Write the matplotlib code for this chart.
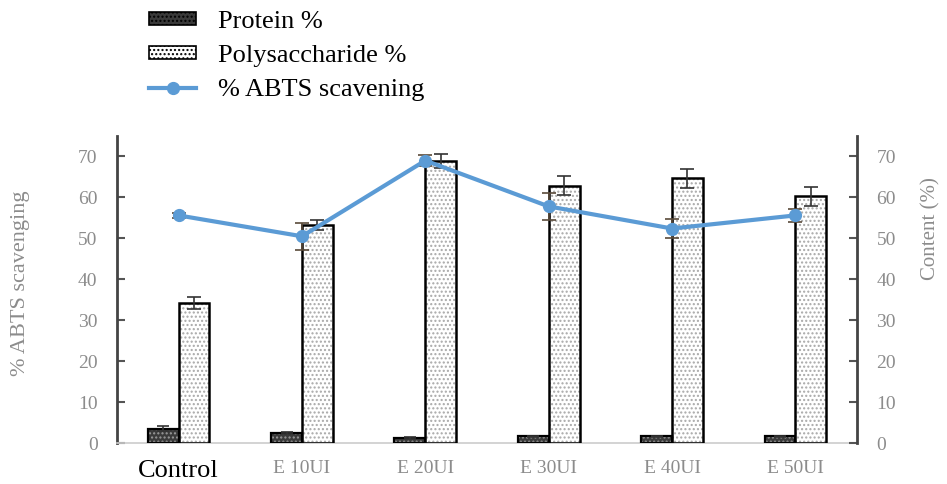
import numpy as np
import matplotlib.pyplot as plt
from matplotlib.patches import Patch
from matplotlib.lines import Line2D

plt.rcParams['font.family'] = ['Liberation Serif', 'DejaVu Serif']
plt.rcParams['hatch.linewidth'] = 1.0

# Enzyme treatments and measured values (mean, sd)
groups = ['Control', 'E 10UI', 'E 20UI', 'E 30UI', 'E 40UI', 'E 50UI']
protein = [3.5, 2.5, 1.3, 1.6, 1.6, 1.6]
protein_err = [0.6, 0.3, 0.2, 0.2, 0.2, 0.2]
polysaccharide = [34.2, 53.2, 69.0, 62.9, 64.7, 60.3]
polysaccharide_err = [1.5, 1.2, 1.7, 2.4, 2.3, 2.3]
abts = [55.6, 50.5, 69.0, 57.8, 52.4, 55.6]
abts_err = [0.6, 3.3, 1.3, 3.2, 2.4, 1.5]

blue = '#5B9BD5'
grey_txt = '#8c8c8c'

fig = plt.figure(figsize=(9.47, 4.84), dpi=100)
ax = fig.add_axes([0.1235, 0.0847, 0.7815, 0.6343])

x = np.arange(len(groups))
w = 0.25

# hatched fill first, then plain black outline on top
ax.bar(x - w/2, protein, w, color='#3a3a3a', edgecolor='#9a9a9a',
       hatch='....', lw=0, zorder=2)
ax.bar(x - w/2, protein, w, fill=False, edgecolor='black', lw=1.6, zorder=3)
ax.bar(x + w/2, polysaccharide, w, color='white', edgecolor='#a8a8a8',
       hatch='....', lw=0, zorder=2)
ax.bar(x + w/2, polysaccharide, w, fill=False, edgecolor='black', lw=1.8,
       zorder=3)
ax.errorbar(x - w/2, protein, yerr=protein_err, fmt='none', ecolor='#333333',
            elinewidth=1.2, capsize=4, capthick=1.2, zorder=4)
ax.errorbar(x + w/2, polysaccharide, yerr=polysaccharide_err, fmt='none',
            ecolor='#333333', elinewidth=1.2, capsize=5, capthick=1.2, zorder=4)

ax.errorbar(x, abts, yerr=abts_err, fmt='none', ecolor='#5a4a3a',
            elinewidth=1.2, capsize=5, capthick=1.2, zorder=5)
ax.plot(x, abts, color=blue, lw=3, marker='o', ms=8.5, zorder=6)

ax.set_xlim(-0.5, len(groups) - 0.5)
ax.set_ylim(0, 75)
ax.set_yticks(range(0, 80, 10))
ax.set_xticks(x)
ax.set_xticklabels(groups)
for i, lab in enumerate(ax.get_xticklabels()):
    if i == 0:
        lab.set_fontsize(19)
        lab.set_color('black')
    else:
        lab.set_fontsize(14)
        lab.set_color(grey_txt)
ax.tick_params(axis='x', length=0, pad=12)
ax.tick_params(axis='y', direction='in', length=6, width=1.5,
               labelsize=14, pad=14, colors='#555555')
for lab in ax.get_yticklabels():
    lab.set_color(grey_txt)
ax.set_ylabel('% ABTS scavenging', fontsize=16, color=grey_txt)
ax.yaxis.set_label_coords(-0.118, 0.52)

ax.spines['top'].set_visible(False)
ax.spines['right'].set_visible(False)
ax.spines['left'].set_color('#444444')
ax.spines['left'].set_linewidth(2)
ax.spines['bottom'].set_color('#cccccc')
ax.spines['bottom'].set_linewidth(1.2)

ax2 = ax.twinx()
ax2.set_ylim(0, 75)
ax2.set_yticks(range(0, 80, 10))
ax2.tick_params(axis='y', direction='in', length=6, width=1.5,
                labelsize=14, pad=14, colors='#555555')
for lab in ax2.get_yticklabels():
    lab.set_color(grey_txt)
for s in ['top', 'left', 'bottom']:
    ax2.spines[s].set_visible(False)
ax2.spines['right'].set_color('#444444')
ax2.spines['right'].set_linewidth(2)
ax2.set_ylabel('Content (%)', fontsize=15, color=grey_txt)
ax2.yaxis.set_label_coords(1.087, 0.70)

handles = [
    Patch(facecolor='#3a3a3a', edgecolor='black', hatch='....', lw=1.2),
    Patch(facecolor='white', edgecolor='black', hatch='....', lw=1.2),
    Line2D([], [], color=blue, lw=3, marker='o', ms=8.5),
]
labels = ['Protein %', 'Polysaccharide %', '% ABTS scavening']
fig.legend(handles, labels, loc='upper left', bbox_to_anchor=(0.155, 0.983),
           frameon=False, fontsize=19, handlelength=1.75, handleheight=0.4,
           handletextpad=0.85, labelspacing=0.45, borderpad=0.1,
           borderaxespad=0)

fig.savefig('out.png', dpi=100)
